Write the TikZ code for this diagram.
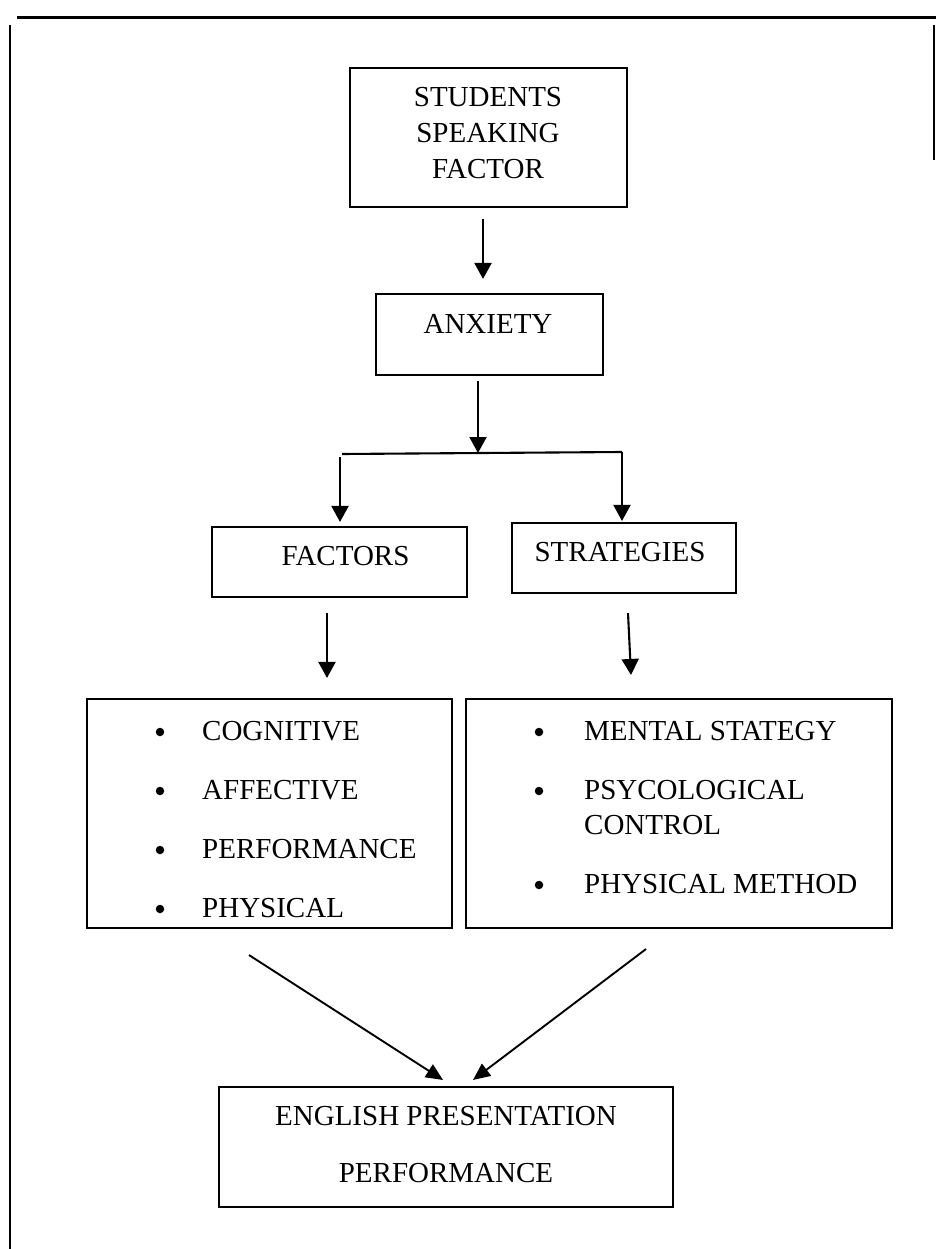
\documentclass[tikz,border=0pt]{standalone}
\usepackage{fontspec}
\setmainfont{Liberation Serif}
\usetikzlibrary{arrows.meta}
\begin{document}
\begin{tikzpicture}[x=1pt,y=-1pt,
  box/.style={draw, line width=2.1pt, inner sep=0pt, rectangle},
  txt/.style={inner sep=0pt, anchor=base, font=\fontsize{29}{34}\selectfont},
  itm/.style={inner sep=0pt, anchor=base west, font=\fontsize{29}{34}\selectfont},
  arr/.style={line width=2.1pt, -{Triangle[width=17pt,length=16pt]}},
  darr/.style={line width=1.9pt, -{Triangle[width=15pt,length=17pt]}},
  dotm/.style={circle, fill, inner sep=0pt, minimum size=8.5pt},
  frame/.style={line width=1.3pt}]
\useasboundingbox (0,0) rectangle (936,1249);
% page frame
\draw[line width=3pt] (17,18) -- (936,18);
\draw[frame] (10,25) -- (10,1249);
\draw[frame] (934,25) -- (934,160);
% boxes
\node[box, minimum width=277pt, minimum height=139pt] (a) at (488.5,137.5) {};
\node[box, minimum width=227pt, minimum height=81pt] (b) at (489.5,334.5) {};
\node[box, minimum width=255pt, minimum height=70pt] (c) at (339.5,562) {};
\node[box, minimum width=224pt, minimum height=70pt] (d) at (624,558) {};
\node[box, minimum width=365pt, minimum height=229pt] (e) at (269.5,813.5) {};
\node[box, minimum width=426pt, minimum height=229pt] (f) at (679,813.5) {};
\node[box, minimum width=454pt, minimum height=120pt] (g) at (446,1147) {};
% texts
\node[txt] (a1) at (488,107) {STUDENTS};
\node[txt] (a2) at (488,143) {SPEAKING};
\node[txt] (a3) at (488,179) {FACTOR};
\node[txt] (b1) at (488,333) {ANXIETY};
\node[txt] (c1) at (345.5,565) {FACTORS};
\node[txt] (d1) at (620,561) {STRATEGIES};
\node[itm] (e1) at (202,740) {COGNITIVE};
\node[itm] (e2) at (202,799) {AFFECTIVE};
\node[itm] (e3) at (202,858) {PERFORMANCE};
\node[itm] (e4) at (202,917) {PHYSICAL};
\node[dotm] (eb1) at (160,732) {};
\node[dotm] (eb2) at (160,791) {};
\node[dotm] (eb3) at (160,850) {};
\node[dotm] (eb4) at (160,909) {};
\node[itm] (f1) at (584,740) {MENTAL STATEGY};
\node[itm] (f2) at (584,799) {PSYCOLOGICAL};
\node[itm] (f3) at (584,834) {CONTROL};
\node[itm] (f4) at (584,893) {PHYSICAL METHOD};
\node[dotm] (fb1) at (539,732) {};
\node[dotm] (fb2) at (539,791) {};
\node[dotm] (fb4) at (539,885) {};
\node[txt] (g1) at (446,1125) {ENGLISH PRESENTATION};
\node[txt] (g2) at (446,1182) {PERFORMANCE};
% connectors
\draw[arr] ([xshift=-5.5pt,yshift=-11pt]a.south) -- ([xshift=-6.5pt,yshift=14pt]b.north);
\coordinate (jm) at (478,453);
\coordinate (jl) at (342,454);
\coordinate (jr) at (622,452);
\coordinate (jl2) at (340,457);
\draw[arr] ([xshift=-11.5pt,yshift=-5pt]b.south) -- (jm);
\draw[line width=2.1pt] (jl) -- (jr);
\draw[arr] (jl2) -- ([xshift=0.5pt,yshift=4pt]c.north);
\draw[arr] (jr) -- ([xshift=-2pt,yshift=1pt]d.north);
\draw[arr] ([xshift=-12.5pt,yshift=-15pt]c.south) -- ([xshift=57.5pt,yshift=20pt]e.north);
\draw[arr] ([xshift=4pt,yshift=-19pt]d.south) -- ([xshift=-48pt,yshift=23pt]f.north);
\draw[darr] ([xshift=-20.5pt,yshift=-26pt]e.south) -- ([xshift=-3pt,yshift=6pt]g.north);
\draw[darr] ([xshift=-33pt,yshift=-20pt]f.south) -- ([xshift=27pt,yshift=6pt]g.north);
\end{tikzpicture}
\end{document}
